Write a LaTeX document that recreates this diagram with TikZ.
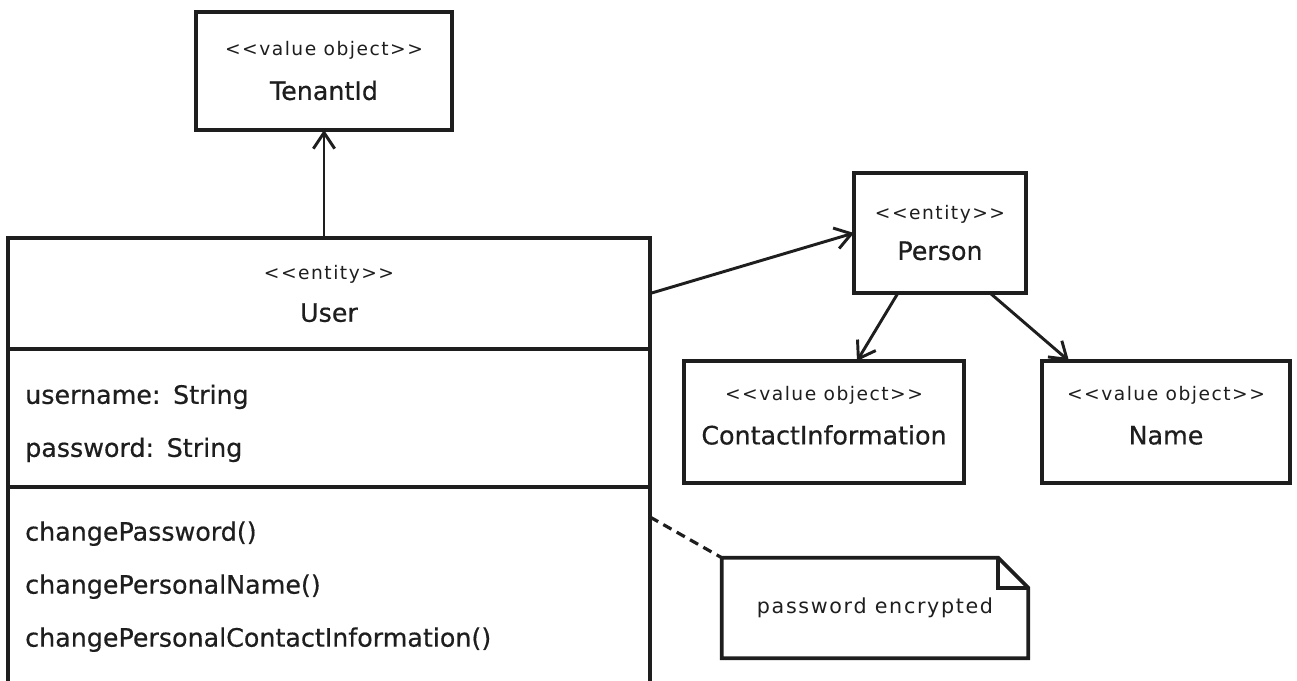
\documentclass[tikz,border=0pt]{standalone}
\usepackage{fontspec}
\setmainfont{DejaVu Sans}[FakeBold=0.5]
\newfontfamily\stereofont[LetterSpace=8]{DejaVu Sans}
\usetikzlibrary{arrows.meta,positioning}
\definecolor{inkc}{HTML}{1E1E1E}
\tikzset{
  classbox/.style={draw=inkc, line width=2.7pt, fill=white, align=center, inner sep=0pt, outer sep=0pt,
                   text=inkc, font=\fontsize{19pt}{22pt}\selectfont},
  members/.style={inner xsep=12.75pt, inner ysep=0pt, text width=456pt, align=left,
                  text=inkc, font=\fontsize{19pt}{39.75pt}\selectfont},
  notebox/.style={inner sep=0pt, minimum width=229.5pt, minimum height=75pt,
                  text=inkc, font=\stereofont\fontsize{15.5pt}{18pt}\selectfont},
  assoc/.style={-{Straight Barb[length=12pt,width=16pt,line width=2.2pt]}, line width=2.2pt, draw=inkc},
  noteline/.style={line width=2.4pt, dash pattern=on 7pt off 4.5pt, draw=inkc},
}
\newcommand{\stereo}[1]{{\stereofont\fontsize{14pt}{16pt}\selectfont #1}}
\def\fold{22.5pt}

\begin{document}
\begin{tikzpicture}[x=0.75pt, y=-0.75pt]
  \useasboundingbox (0,0) rectangle (1297,681);
  % classes
  \node[classbox, minimum width=192pt, minimum height=88.5pt] (tenant) at (324,71)
    {\stereo{<<value object>>}\\[11pt]TenantId};
  \node[classbox, minimum width=129pt, minimum height=90pt] (person) at (940,233)
    {\stereo{<<entity>>}\\[8pt]Person};
  \node[classbox, minimum width=210pt, minimum height=91.5pt] (contact) at (824,422)
    {\stereo{<<value object>>}\\[11pt]ContactInformation\\[-12pt]\mbox{}};
  \node[classbox, minimum width=186pt, minimum height=91.5pt] (name) at (1166,422)
    {\stereo{<<value object>>}\\[11pt]Name\\[-12pt]\mbox{}};
  % the User class, cut off at the bottom
  \node[classbox, minimum width=481.5pt, minimum height=83.25pt] (userhead) at (329,293.5)
    {\stereo{<<entity>>}\\[10pt]User};
  \node[classbox, minimum width=481.5pt, minimum height=103.5pt, below=0pt of userhead] (userattr) {};
  \node[members, anchor=west, yshift=-4pt] (attrtext) at (userattr.west)
    {username: String\\password: String};
  \node[minimum width=481.5pt, minimum height=145.5pt, inner sep=0pt, outer sep=0pt, below=0pt of userattr] (userops) {};
  \node[members, anchor=west, yshift=-2pt] (opstext) at (userops.west)
    {changePassword()\\changePersonalName()\\changePersonalContactInformation()};
  \draw[draw=inkc, line width=2.7pt] ([yshift=-6pt]userops.south west) -- (userops.north west)
    ([yshift=-6pt]userops.south east) -- (userops.north east);
  % note
  \node[notebox] (note) at (875,608) {password encrypted};
  \draw[draw=inkc, line width=2.7pt, line join=miter] (note.north west) -- ([xshift=-\fold]note.north east)
    -- ([yshift=-\fold]note.north east) -- (note.south east) -- (note.south west) -- cycle;
  \draw[draw=inkc, line width=2.7pt] ([xshift=-\fold]note.north east) |- ([yshift=-\fold]note.north east);
  % connectors
  \draw[assoc] (tenant.south |- userhead.north) -- (tenant.south);
  \draw[assoc] (userhead.east) -- (person.west);
  \draw[assoc] ([xshift=-31.5pt]person.south) -- ([xshift=24.75pt]contact.north);
  \draw[assoc] ([xshift=37.5pt]person.south) -- ([xshift=-72.75pt]name.north);
  \draw[noteline] ([yshift=-22.5pt]userops.north east) -- (note.north west);
\end{tikzpicture}
\end{document}
